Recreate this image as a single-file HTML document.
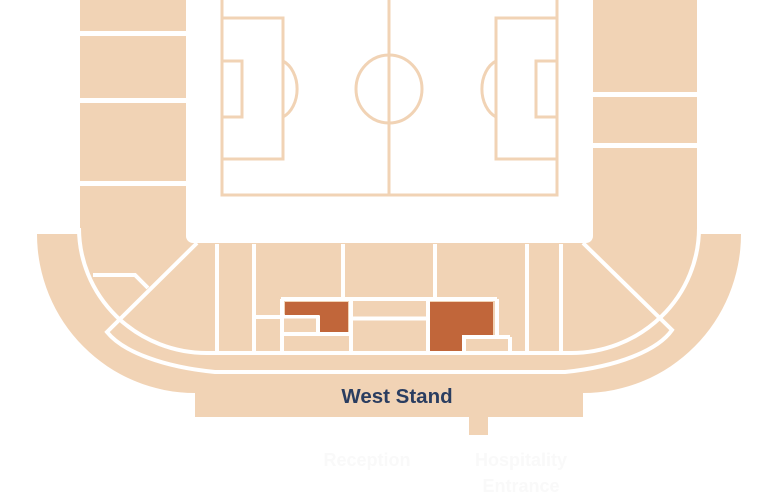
<!DOCTYPE html>
<html><head><meta charset="utf-8"><style>
html,body{margin:0;padding:0;background:#fff;}
svg{display:block;}
</style></head><body>
<svg width="779" height="500" viewBox="0 0 779 500" xmlns="http://www.w3.org/2000/svg">
<g fill="#f1d3b5">
  <path d="M37,234 H80 V0 H697 V234 H741 A158,159 0 0 1 583,393 V417 H195 V393 A158,159 0 0 1 37,234 Z"/>
  <rect x="469" y="415" width="19" height="20"/>
</g>
<path d="M186,0 H593 V236 A7,7 0 0 1 586,243 H193 A7,7 0 0 1 186,236 Z" fill="#fff"/>
<g fill="#fff">
  <rect x="80" y="31" width="106" height="5"/>
  <rect x="80" y="98" width="106" height="5"/>
  <rect x="80" y="181" width="106" height="5"/>
  <rect x="593" y="92" width="104" height="5"/>
  <rect x="593" y="143" width="104" height="5"/>
</g>
<g stroke="#fff" stroke-width="4" fill="none">
  <path d="M79,228 A128,125 0 0 0 207,353 H570 A128,125 0 0 0 699,228"/>
  <path d="M197,243 L107,332 A150,60 0 0 0 215,372 H565 A150,60 0 0 0 672,330 L583,243"/>
  <path d="M93,275 H135 L148,288"/>
  <path d="M217,244 V353 M254,244 V353 M343,244 V299 M435,244 V299 M527,244 V353 M561,244 V353"/>
  <path d="M281,299 H497 M282,299 V353 M254,317 H282 M351,299 V353 M351,318.5 H428 M428,299 V353"/>
  <path d="M282,334 H350 M282,316.5 H319 M318,316 V334"/>
  <path d="M497,299 V337 M462,337 H510 M510,337 V353 M464,337 V353"/>
</g>
<g fill="#c1663a">
  <path d="M285,302 H348 V332 H320 V315 H285 Z"/>
  <path d="M430,302 H493 V335 H462 V351 H430 Z"/>
</g>
<g stroke="#f1d3b5" stroke-width="3" fill="none">
  <path d="M222,0 V195 H557 V0"/>
  <path d="M389,0 V195"/>
  <ellipse cx="389" cy="89" rx="33" ry="34"/>
  <path d="M222,18 H283 V159 H222"/>
  <path d="M222,61 H242 V117 H222"/>
  <path d="M283,61 A22,30 0 0 1 283,117"/>
  <path d="M557,18 H496 V159 H557"/>
  <path d="M557,61 H536 V117 H557"/>
  <path d="M496,61 A22,30 0 0 0 496,117"/>
</g>
<text x="397" y="403" text-anchor="middle" font-family="Liberation Sans, sans-serif" font-weight="bold" font-size="20.5" fill="#2a3d60">West Stand</text>
<g font-family="Liberation Sans, sans-serif" font-weight="bold" font-size="18" fill="#f9f9f9" text-anchor="middle">
  <text x="367" y="466">Reception</text>
  <text x="521" y="466">Hospitality</text>
  <text x="521" y="492">Entrance</text>
</g>
</svg>
</body></html>
